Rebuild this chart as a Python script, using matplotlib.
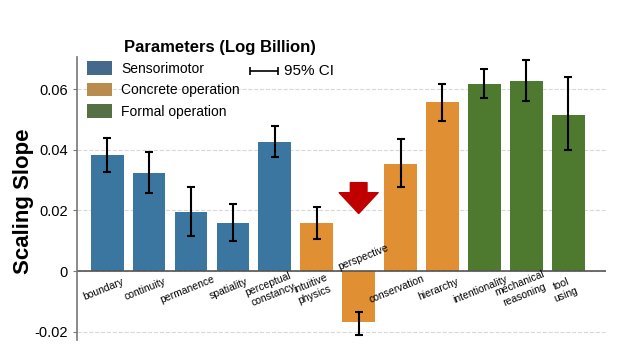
import numpy as np
import matplotlib
matplotlib.use("Agg")
import matplotlib.pyplot as plt
from matplotlib.patches import Patch

plt.rcParams["font.family"] = ["Liberation Sans", "DejaVu Sans"]

labels = ["boundary", "continuity", "permanence", "spatiality", "perceptual\nconstancy",
          "intuitive\nphysics", "perspective", "conservation", "hierarchy", "intentionality",
          "mechanical\nreasoning", "tool\nusing"]
stage = ["S", "S", "S", "S", "S", "C", "C", "C", "C", "F", "F", "F"]
slope = [0.0383, 0.0323, 0.0195, 0.0160, 0.0427, 0.0157, -0.0170, 0.0353, 0.0557, 0.0617, 0.0627, 0.0517]
ci_low = [0.0327, 0.0257, 0.0117, 0.0100, 0.0377, 0.0107, -0.0210, 0.0277, 0.0497, 0.0570, 0.0563, 0.0400]
ci_high = [0.0440, 0.0393, 0.0277, 0.0220, 0.0480, 0.0210, -0.0137, 0.0437, 0.0617, 0.0667, 0.0697, 0.0640]

bar_colors = {"S": "#3a76a0", "C": "#e08f33", "F": "#4e7a2f"}
legend_colors = {"S": "#44698a", "C": "#b98b4e", "F": "#557044"}
legend_names = {"S": "Sensorimotor", "C": "Concrete operation", "F": "Formal operation"}

x = np.arange(len(labels))
slope = np.array(slope)
yerr = np.array([slope - np.array(ci_low), np.array(ci_high) - slope])

fig = plt.figure(figsize=(6.26, 3.52), dpi=100)
ax = fig.add_axes([0.123, 0.034, 0.845, 0.804])

ax.bar(x, slope, width=0.78, color=[bar_colors[s] for s in stage], zorder=2)
ax.errorbar(x, slope, yerr=yerr, fmt="none", ecolor="black", elinewidth=1.5,
            capsize=3, capthick=1.5, zorder=3)

ax.set_xlim(-0.72, 11.9)
ax.set_ylim(-0.0228, 0.0707)
ax.set_yticks([-0.02, 0, 0.02, 0.04, 0.06])
ax.set_yticklabels(["-0.02", "0", "0.02", "0.04", "0.06"], fontsize=10.5)
ax.set_xticks([])
ax.yaxis.grid(True, linestyle="--", color="#d8d8d8", linewidth=0.8, zorder=0)
ax.axhline(0, color="#555555", linewidth=1.2, zorder=2)
for s in ["top", "right", "bottom"]:
    ax.spines[s].set_visible(False)
ax.spines["left"].set_color("#777777")
ax.spines["left"].set_linewidth(1.2)
ax.tick_params(axis="y", length=3, color="#777777")

ax.set_ylabel("Scaling Slope", fontsize=16, fontweight="bold")
ax.yaxis.set_label_coords(-0.082, 0.49)

for i, lab in enumerate(labels):
    if slope[i] < 0:
        ax.text(i + 0.1, 0.0045, lab, rotation=22, ha="center", va="center", fontsize=7.5)
    else:
        ax.text(i - 0.1, -0.0060, lab, rotation=22, ha="center", va="center", fontsize=7.5,
                linespacing=1.2)

# red arrow above the negative bar
ax.annotate("", xy=(6, 0.0190), xytext=(6, 0.0292),
            arrowprops=dict(arrowstyle="simple,head_width=1.4,head_length=0.75,tail_width=0.6",
                            color="#c00000", mutation_scale=20, shrinkA=0, shrinkB=0))

handles = [Patch(facecolor=legend_colors[k], label=legend_names[k]) for k in ["S", "C", "F"]]
ax.legend(handles=handles, loc="upper left", bbox_to_anchor=(0.0, 1.02), frameon=False,
          fontsize=10, handlelength=1.8, handleheight=1.15, labelspacing=0.5,
          handletextpad=0.7, borderaxespad=0.3)

fig.text(0.352, 0.866, "Parameters (Log Billion)", fontsize=12, fontweight="bold", ha="center",
         va="center")

# 95% CI glyph
ax.errorbar([3.74], [0.0662], xerr=[[0.33], [0.33]], fmt="none", ecolor="black",
            elinewidth=1.2, capsize=3, capthick=1.2)
ax.text(4.22, 0.0662, "95% CI", fontsize=11, va="center", ha="left")

fig.savefig("out.png", dpi=100, facecolor="white")
